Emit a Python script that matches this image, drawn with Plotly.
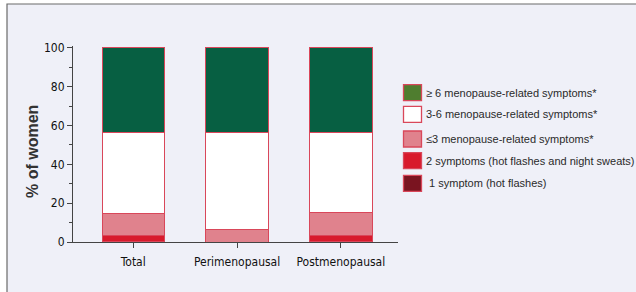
import plotly.graph_objects as go

categories = ["Total", "Perimenopausal", "Postmenopausal"]
series_names = [
    "1 symptom (hot flashes)",
    "2 symptoms (hot flashes and night sweats)",
    "\u22643 menopause-related symptoms*",
    "3-6 menopause-related symptoms*",
    "\u2265 6 menopause-related symptoms*",
]
one_symptom = [0.5, 0.0, 0.5]
two_symptoms = [2.6, 0.0, 2.6]
le3_symptoms = [11.6, 6.7, 11.9]
three_six_symptoms = [41.6, 49.6, 41.3]
ge6_symptoms = [43.7, 43.7, 43.7]
series_values = [one_symptom, two_symptoms, le3_symptoms, three_six_symptoms, ge6_symptoms]

bar_colors = ["#7a1420", "#d81a2c", "#e0828d", "#ffffff", "#075f42"]
legend_colors = ["#7a1420", "#d81a2c", "#e0828d", "#ffffff", "#4f7d2f"]
edge = "#d9475a"
cond_font = "Liberation Sans Narrow, DejaVu Sans Condensed, Roboto Condensed, Open Sans Condensed, Roboto"

fig = go.Figure()
for name, vals, col in zip(series_names, series_values, bar_colors):
    fig.add_trace(go.Bar(
        x=categories, y=vals, name=name, marker=dict(color=col, line=dict(color=edge, width=1)),
        width=0.6, showlegend=False, hoverinfo="skip",
    ))

# plot area in px
L, R, T, B = 73, 398, 46, 242
W, H = R - L, B - T
def px(x):
    return (x - L) / W
def py(y):
    return (B - y) / H

shapes = [dict(type="rect", xref="paper", yref="paper", x0=px(7), x1=px(660), y0=py(4), y1=py(320),
               fillcolor="#eff0f8", line=dict(color="#6a6a6a", width=1.2), layer="below")]
annotations = []
legend_rows = [92.7, 114.3, 139.0, 160.7, 183.3]
order = [4, 3, 2, 1, 0]
for row_y, idx in zip(legend_rows, order):
    shapes.append(dict(type="rect", xref="paper", yref="paper",
                       x0=px(403.5), x1=px(421.5), y0=py(row_y + 8), y1=py(row_y - 8),
                       fillcolor=legend_colors[idx], line=dict(color=edge, width=1.3)))
    annotations.append(dict(xref="paper", yref="paper", x=px(424), y=py(row_y), xanchor="left", yanchor="middle",
                            text=(" " if idx == 0 else "") + series_names[idx], showarrow=False,
                            font=dict(family="Liberation Sans, Arial", size=11, color="#2a2a2a")))

annotations.append(dict(xref="paper", yref="paper", x=px(32), y=py(152), text="<b>% of women</b>", textangle=-90,
                        showarrow=False, xanchor="center", yanchor="middle",
                        font=dict(family="Liberation Sans, Arial", size=16, color="#333333")))

fig.update_layout(
    barmode="stack",
    width=636, height=292,
    margin=dict(l=L, r=636 - R, t=T, b=292 - B, pad=0),
    paper_bgcolor="#ffffff",
    plot_bgcolor="rgba(0,0,0,0)",
    shapes=shapes,
    annotations=annotations,
    xaxis=dict(range=[-0.58, 2.55], showline=True, linecolor="#444444", linewidth=1.2,
               ticks="outside", ticklen=5, tickcolor="#444444", showgrid=False, zeroline=False,
               ticklabelstandoff=3,
               tickfont=dict(family=cond_font, size=12, color="#111111", weight=500)),
    yaxis=dict(range=[0, 101], showline=True, linecolor="#444444", linewidth=1.2,
               tickvals=[0, 20, 40, 60, 80, 100], ticks="outside", ticklen=5, tickcolor="#444444",
               minor=dict(dtick=10, ticks="outside", ticklen=3, tickcolor="#444444"),
               showgrid=False, zeroline=False,
               tickfont=dict(family=cond_font, size=12, color="#111111")),
    showlegend=False,
    hovermode=False,
)

fig.write_html("out.html", config={"displayModeBar": False},
               post_script="document.body.style.margin='0';document.body.style.overflow='hidden';")
